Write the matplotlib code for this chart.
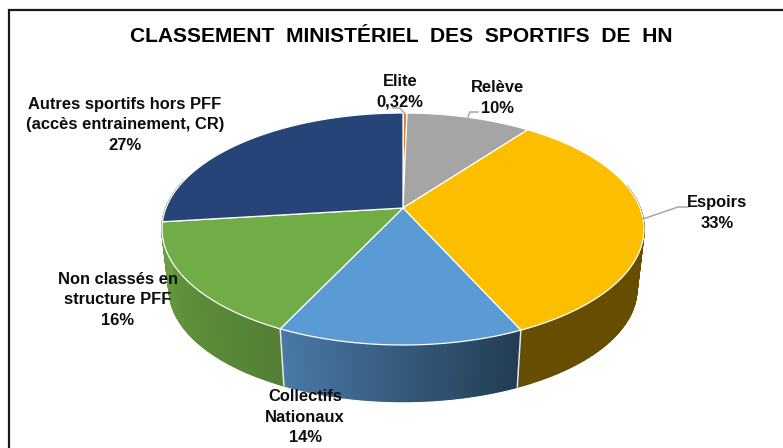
import numpy as np
import matplotlib
matplotlib.use("Agg")
import matplotlib.pyplot as plt
from matplotlib.collections import PolyCollection
from matplotlib.colors import to_rgb

plt.rcParams['font.family'] = ['Liberation Sans', 'DejaVu Sans']

# Data, clockwise from the top
categories = ['Elite', 'Relève', 'Espoirs', 'Collectifs\nNationaux',
              'Non classés en\nstructure PFF',
              'Autres sportifs hors PFF\n(accès entrainement, CR)']
values = [0.32, 10, 33, 14, 16, 27]
value_labels = ['0,32%', '10%', '33%', '14%', '16%', '27%']
title = 'CLASSEMENT  MINISTÉRIEL  DES  SPORTIFS  DE  HN'

colors = ['#ed7d31', '#a5a5a5', '#fbbf00', '#5b9bd5', '#70ad47', '#264478']
# Wall shading along each slice. The navy wall only peeks out on the far left,
# where the reference stays green.
side_start = ['#8e4b1d', '#636363', '#664d00', '#223c53', '#547f35', '#679e40']
side_end = ['#8e4b1d', '#636363', '#664d00', '#4a79a6', '#679e40', '#679e40']

# Label centres in pixels, leader lines
label_pos = [(400, 92), (497, 98), (717, 213), (305, 417), (118, 300), (125, 125)]
leaders = [[(393, 108), (400, 108), (405, 114)],
           [(468, 117), (470, 112), (478, 112)],
           [(643, 219), (678, 207), (688, 207)]]

# Perspective of the pie, in pixels
cx, cy = 403, 208
A, H, K = 237, 112.2, 0.181
S, DEPTH = 0.97, 60.5
WALL_FROM, WALL_TO = 78, 285  # the rest of the wall is behind the top face


def rim(deg, scale=1.0, dy=0.0):
    t = np.deg2rad(deg)
    X, Y = np.sin(t), np.cos(t)
    w = 1 + K * Y
    return np.column_stack([cx + scale * A * X / w, cy + dy - scale * H * Y / w])


fig = plt.figure(figsize=(7.83, 4.48), dpi=100)
ax = fig.add_axes([0, 0, 1, 1])
ax.set_xlim(0, 783)
ax.set_ylim(448, 0)
ax.axis('off')

# Chart frame (right and bottom are cut off in the screenshot)
ax.plot([8.5, 8.5, 783], [448, 10.5, 10.5], color='#1a1a1a', lw=1.6, solid_joinstyle='miter', zorder=1)

edges = np.concatenate([[0], np.cumsum(values)]) / np.sum(values) * 360

# Side wall, thin quads so the shading can run along the rim
for i in range(len(values)):
    lo, hi = max(edges[i], WALL_FROM), min(edges[i + 1], WALL_TO)
    if lo >= hi:
        continue
    th = np.linspace(lo, hi, 80)
    top = rim(th)
    bot = rim(th, S, DEPTH)
    quads = [[top[j], top[j + 1], bot[j + 1], bot[j]] for j in range(len(th) - 1)]
    c0, c1 = np.array(to_rgb(side_start[i])), np.array(to_rgb(side_end[i]))
    cols = [c0 + (c1 - c0) * j / (len(th) - 2) for j in range(len(th) - 1)]
    ax.add_collection(PolyCollection(quads, facecolors=cols, edgecolors=cols, linewidths=1.2, zorder=2))

# White seams on the wall
for e in edges:
    if 90 < e < 262:
        p, q = rim(e)[0], rim(e, S, DEPTH)[0]
        ax.plot([p[0], q[0]], [p[1], q[1]], color='#e8e8e8', lw=1.1, zorder=3)

# Top face
for i in range(len(values)):
    arc = rim(np.linspace(edges[i], edges[i + 1], 120))
    pts = np.vstack([[cx, cy], arc])
    ax.fill(pts[:, 0], pts[:, 1], facecolor=colors[i], edgecolor='white', lw=0.9,
            joinstyle='round', zorder=4)

# Leader lines
for line in leaders:
    xs, ys = zip(*line)
    ax.plot(xs, ys, color='#a6a6a6', lw=1.1, zorder=5)

for name, val, (x, y) in zip(categories, value_labels, label_pos):
    ax.text(x, y, name + '\n' + val, ha='center', va='center', fontsize=11.9,
            fontweight='bold', color='#0d0d0d', linespacing=1.42, zorder=6)

ax.text(401, 36, title, ha='center', va='center', fontsize=15.1, fontweight='bold',
        color='black', zorder=6)

fig.savefig('out.png', dpi=100, facecolor='white')
